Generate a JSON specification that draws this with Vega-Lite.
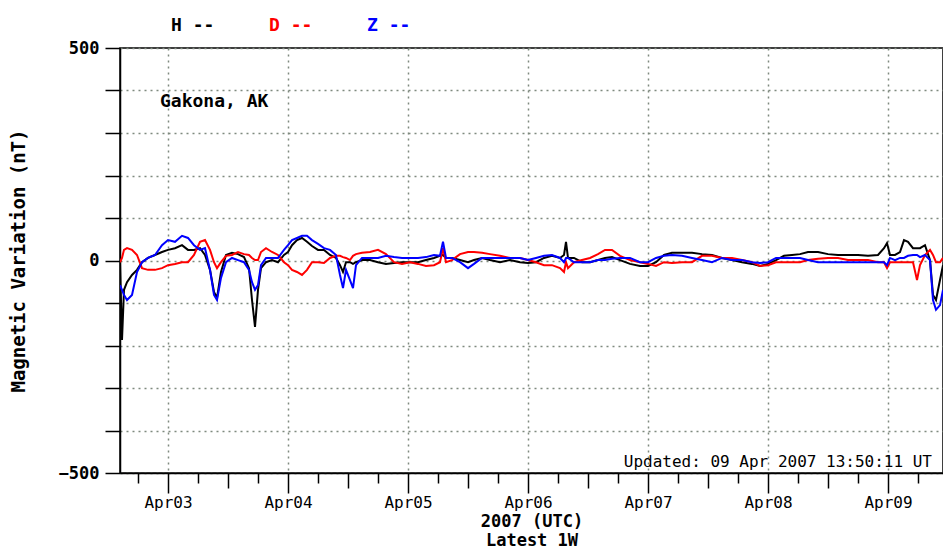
{
  "$schema": "https://vega.github.io/schema/vega-lite/v6.json",
  "autosize": "none",
  "width": 823,
  "height": 425,
  "padding": {"left": 120, "top": 48, "right": 0, "bottom": 77},
  "background": "white",
  "config": {
    "font": "DejaVu Sans Mono",
    "view": {"stroke": "black", "strokeWidth": 1.5}
  },
  "resolve": {"scale": {"x": "shared"}, "axis": {"x": "independent"}},
  "data": {"values": [
    {"t": "2007-04-02T14:24:00Z", "H": -4, "D": -4, "Z": -58},
    {"t": "2007-04-02T14:48:00Z", "H": -187, "D": 6, "Z": -69},
    {"t": "2007-04-02T15:12:00Z", "H": -69, "D": 25, "Z": -81},
    {"t": "2007-04-02T15:48:00Z", "H": -51, "D": 29, "Z": -93},
    {"t": "2007-04-02T16:48:00Z", "H": -34, "D": 25, "Z": -81},
    {"t": "2007-04-02T17:48:00Z", "H": -22, "D": 13, "Z": -27},
    {"t": "2007-04-02T18:48:00Z", "H": -4, "D": -18, "Z": -4},
    {"t": "2007-04-02T20:00:00Z", "H": 6, "D": -22, "Z": 6},
    {"t": "2007-04-02T21:24:00Z", "H": 13, "D": -22, "Z": 13},
    {"t": "2007-04-02T22:48:00Z", "H": 20, "D": -18, "Z": 36},
    {"t": "2007-04-03T00:00:00Z", "H": 25, "D": -11, "Z": 48},
    {"t": "2007-04-03T01:24:00Z", "H": 29, "D": -8, "Z": 44},
    {"t": "2007-04-03T02:48:00Z", "H": 36, "D": -4, "Z": 58},
    {"t": "2007-04-03T04:00:00Z", "H": 25, "D": -4, "Z": 53},
    {"t": "2007-04-03T05:12:00Z", "H": 25, "D": 13, "Z": 36},
    {"t": "2007-04-03T06:24:00Z", "H": 29, "D": 44, "Z": 25},
    {"t": "2007-04-03T07:24:00Z", "H": 13, "D": 48, "Z": 29},
    {"t": "2007-04-03T08:24:00Z", "H": -22, "D": 25, "Z": -22},
    {"t": "2007-04-03T09:12:00Z", "H": -74, "D": -4, "Z": -81},
    {"t": "2007-04-03T09:48:00Z", "H": -88, "D": -18, "Z": -93},
    {"t": "2007-04-03T10:36:00Z", "H": -27, "D": -4, "Z": -41},
    {"t": "2007-04-03T11:36:00Z", "H": 13, "D": 11, "Z": -4},
    {"t": "2007-04-03T12:48:00Z", "H": 18, "D": 13, "Z": 6},
    {"t": "2007-04-03T14:00:00Z", "H": 15, "D": 20, "Z": 1},
    {"t": "2007-04-03T15:12:00Z", "H": 8, "D": 15, "Z": -4},
    {"t": "2007-04-03T16:12:00Z", "H": -18, "D": 13, "Z": -22},
    {"t": "2007-04-03T16:48:00Z", "H": -93, "D": 6, "Z": -51},
    {"t": "2007-04-03T17:24:00Z", "H": -156, "D": 1, "Z": -69},
    {"t": "2007-04-03T18:00:00Z", "H": -69, "D": 1, "Z": -58},
    {"t": "2007-04-03T18:36:00Z", "H": -18, "D": 20, "Z": -11},
    {"t": "2007-04-03T19:36:00Z", "H": -4, "D": 29, "Z": 6},
    {"t": "2007-04-03T20:48:00Z", "H": 1, "D": 20, "Z": 6},
    {"t": "2007-04-03T22:00:00Z", "H": -4, "D": 13, "Z": 6},
    {"t": "2007-04-03T23:12:00Z", "H": 13, "D": -4, "Z": 25},
    {"t": "2007-04-04T00:00:00Z", "H": 20, "D": -11, "Z": 36},
    {"t": "2007-04-04T00:48:00Z", "H": 36, "D": -22, "Z": 48},
    {"t": "2007-04-04T01:48:00Z", "H": 48, "D": -27, "Z": 53},
    {"t": "2007-04-04T02:48:00Z", "H": 53, "D": -34, "Z": 58},
    {"t": "2007-04-04T03:48:00Z", "H": 44, "D": -22, "Z": 58},
    {"t": "2007-04-04T04:48:00Z", "H": 34, "D": -4, "Z": 48},
    {"t": "2007-04-04T06:00:00Z", "H": 25, "D": -4, "Z": 39},
    {"t": "2007-04-04T07:12:00Z", "H": 25, "D": -6, "Z": 29},
    {"t": "2007-04-04T08:24:00Z", "H": 13, "D": 6, "Z": 25},
    {"t": "2007-04-04T09:36:00Z", "H": 6, "D": 11, "Z": 13},
    {"t": "2007-04-04T10:24:00Z", "H": -11, "D": 11, "Z": -34},
    {"t": "2007-04-04T11:00:00Z", "H": -27, "D": 8, "Z": -65},
    {"t": "2007-04-04T11:36:00Z", "H": -4, "D": 6, "Z": -22},
    {"t": "2007-04-04T12:24:00Z", "H": -4, "D": 1, "Z": -46},
    {"t": "2007-04-04T13:00:00Z", "H": -8, "D": 11, "Z": -65},
    {"t": "2007-04-04T13:36:00Z", "H": -4, "D": 15, "Z": -11},
    {"t": "2007-04-04T14:48:00Z", "H": 1, "D": 18, "Z": 6},
    {"t": "2007-04-04T16:24:00Z", "H": 1, "D": 20, "Z": 6},
    {"t": "2007-04-04T18:00:00Z", "H": -4, "D": 25, "Z": 6},
    {"t": "2007-04-04T19:36:00Z", "H": -8, "D": 15, "Z": 11},
    {"t": "2007-04-04T21:12:00Z", "H": -6, "D": -4, "Z": 8},
    {"t": "2007-04-04T22:48:00Z", "H": -4, "D": -8, "Z": 6},
    {"t": "2007-04-05T00:24:00Z", "H": -4, "D": -4, "Z": 6},
    {"t": "2007-04-05T02:00:00Z", "H": -4, "D": -8, "Z": 6},
    {"t": "2007-04-05T03:36:00Z", "H": 1, "D": -13, "Z": 8},
    {"t": "2007-04-05T05:12:00Z", "H": 6, "D": -11, "Z": 13},
    {"t": "2007-04-05T06:24:00Z", "H": 11, "D": -4, "Z": 11},
    {"t": "2007-04-05T07:00:00Z", "H": 13, "D": 29, "Z": 44},
    {"t": "2007-04-05T07:36:00Z", "H": 6, "D": -4, "Z": 6},
    {"t": "2007-04-05T08:48:00Z", "H": 6, "D": 1, "Z": 6},
    {"t": "2007-04-05T10:24:00Z", "H": 1, "D": 15, "Z": -4},
    {"t": "2007-04-05T12:00:00Z", "H": -4, "D": 20, "Z": -18},
    {"t": "2007-04-05T13:12:00Z", "H": 1, "D": 20, "Z": -8},
    {"t": "2007-04-05T14:48:00Z", "H": 6, "D": 18, "Z": 6},
    {"t": "2007-04-05T16:24:00Z", "H": 1, "D": 15, "Z": 6},
    {"t": "2007-04-05T18:24:00Z", "H": -4, "D": 11, "Z": 6},
    {"t": "2007-04-05T20:24:00Z", "H": 1, "D": 6, "Z": 6},
    {"t": "2007-04-05T22:24:00Z", "H": -4, "D": 6, "Z": 6},
    {"t": "2007-04-06T00:00:00Z", "H": -6, "D": 1, "Z": 1},
    {"t": "2007-04-06T01:36:00Z", "H": -4, "D": -4, "Z": 6},
    {"t": "2007-04-06T03:12:00Z", "H": 6, "D": -11, "Z": 11},
    {"t": "2007-04-06T04:48:00Z", "H": 11, "D": -11, "Z": 13},
    {"t": "2007-04-06T06:24:00Z", "H": 6, "D": -18, "Z": 6},
    {"t": "2007-04-06T07:12:00Z", "H": 13, "D": -27, "Z": -4},
    {"t": "2007-04-06T07:36:00Z", "H": 44, "D": -4, "Z": 6},
    {"t": "2007-04-06T08:00:00Z", "H": 6, "D": -18, "Z": 6},
    {"t": "2007-04-06T09:12:00Z", "H": 6, "D": -4, "Z": -4},
    {"t": "2007-04-06T10:48:00Z", "H": -4, "D": 1, "Z": -4},
    {"t": "2007-04-06T12:24:00Z", "H": -4, "D": 6, "Z": -4},
    {"t": "2007-04-06T14:00:00Z", "H": 1, "D": 15, "Z": 1},
    {"t": "2007-04-06T15:24:00Z", "H": 6, "D": 25, "Z": 1},
    {"t": "2007-04-06T16:48:00Z", "H": 8, "D": 25, "Z": 4},
    {"t": "2007-04-06T18:24:00Z", "H": 1, "D": 11, "Z": 6},
    {"t": "2007-04-06T20:24:00Z", "H": -8, "D": 1, "Z": 6},
    {"t": "2007-04-06T22:24:00Z", "H": -13, "D": -4, "Z": -4},
    {"t": "2007-04-07T00:00:00Z", "H": -13, "D": -8, "Z": -4},
    {"t": "2007-04-07T01:36:00Z", "H": -4, "D": -13, "Z": 6},
    {"t": "2007-04-07T03:12:00Z", "H": 13, "D": -4, "Z": 11},
    {"t": "2007-04-07T04:48:00Z", "H": 18, "D": -6, "Z": 13},
    {"t": "2007-04-07T06:48:00Z", "H": 18, "D": -4, "Z": 11},
    {"t": "2007-04-07T08:48:00Z", "H": 18, "D": -4, "Z": 6},
    {"t": "2007-04-07T10:48:00Z", "H": 15, "D": 11, "Z": 1},
    {"t": "2007-04-07T12:48:00Z", "H": 13, "D": 11, "Z": -4},
    {"t": "2007-04-07T14:48:00Z", "H": 6, "D": 6, "Z": 6},
    {"t": "2007-04-07T16:48:00Z", "H": 1, "D": 6, "Z": 1},
    {"t": "2007-04-07T18:48:00Z", "H": -4, "D": 1, "Z": 1},
    {"t": "2007-04-07T20:48:00Z", "H": -8, "D": -4, "Z": -4},
    {"t": "2007-04-07T22:24:00Z", "H": -13, "D": -13, "Z": -6},
    {"t": "2007-04-08T00:00:00Z", "H": -8, "D": -11, "Z": -4},
    {"t": "2007-04-08T01:36:00Z", "H": 1, "D": -4, "Z": 6},
    {"t": "2007-04-08T03:12:00Z", "H": 11, "D": -4, "Z": 6},
    {"t": "2007-04-08T04:48:00Z", "H": 13, "D": -4, "Z": 6},
    {"t": "2007-04-08T06:24:00Z", "H": 15, "D": -4, "Z": 6},
    {"t": "2007-04-08T08:00:00Z", "H": 20, "D": 1, "Z": 1},
    {"t": "2007-04-08T10:00:00Z", "H": 20, "D": 4, "Z": -4},
    {"t": "2007-04-08T12:00:00Z", "H": 15, "D": 6, "Z": -4},
    {"t": "2007-04-08T14:00:00Z", "H": 13, "D": 6, "Z": -4},
    {"t": "2007-04-08T16:00:00Z", "H": 13, "D": 1, "Z": -4},
    {"t": "2007-04-08T18:00:00Z", "H": 13, "D": 1, "Z": -4},
    {"t": "2007-04-08T20:00:00Z", "H": 11, "D": 1, "Z": -4},
    {"t": "2007-04-08T22:00:00Z", "H": 13, "D": -4, "Z": -4},
    {"t": "2007-04-08T23:12:00Z", "H": 29, "D": -4, "Z": -4},
    {"t": "2007-04-08T23:48:00Z", "H": 41, "D": -18, "Z": -11},
    {"t": "2007-04-09T00:24:00Z", "H": 13, "D": -4, "Z": 6},
    {"t": "2007-04-09T01:24:00Z", "H": 13, "D": -4, "Z": 1},
    {"t": "2007-04-09T02:24:00Z", "H": 20, "D": -4, "Z": 6},
    {"t": "2007-04-09T03:12:00Z", "H": 48, "D": -4, "Z": 6},
    {"t": "2007-04-09T04:00:00Z", "H": 44, "D": -4, "Z": 11},
    {"t": "2007-04-09T05:00:00Z", "H": 29, "D": -4, "Z": 13},
    {"t": "2007-04-09T05:48:00Z", "H": 29, "D": -46, "Z": 13},
    {"t": "2007-04-09T06:24:00Z", "H": 29, "D": -11, "Z": 8},
    {"t": "2007-04-09T07:24:00Z", "H": 36, "D": 13, "Z": 13},
    {"t": "2007-04-09T08:24:00Z", "H": 1, "D": 25, "Z": 1},
    {"t": "2007-04-09T09:00:00Z", "H": -81, "D": 13, "Z": -93},
    {"t": "2007-04-09T09:36:00Z", "H": -93, "D": -4, "Z": -116},
    {"t": "2007-04-09T10:24:00Z", "H": -46, "D": -4, "Z": -105},
    {"t": "2007-04-09T11:00:00Z", "H": -11, "D": 6, "Z": -69}
  ]},
  "layer": [
    {
      "transform": [{"fold": ["H", "D", "Z"], "as": ["comp", "v"]}],
      "mark": {"type": "line", "strokeWidth": 2, "clip": true},
      "encoding": {
        "x": {
          "field": "t", "type": "temporal",
          "scale": {"type": "utc", "domain": [
            {"year": 2007, "month": 4, "date": 2, "hours": 14, "minutes": 24, "utc": true},
            {"year": 2007, "month": 4, "date": 9, "hours": 11, "minutes": 0, "utc": true}
          ], "nice": false},
          "axis": {
            "orient": "bottom",
            "title": ["2007 (UTC)", "Latest 1W"],
            "titleFont": "DejaVu Sans Mono",
            "titleFontSize": 17,
            "titleFontWeight": "bold",
            "titleColor": "black",
            "titleLineHeight": 19,
            "titlePadding": 3,
            "values": [
              {"year": 2007, "month": 4, "date": 3, "utc": true},
              {"year": 2007, "month": 4, "date": 4, "utc": true},
              {"year": 2007, "month": 4, "date": 5, "utc": true},
              {"year": 2007, "month": 4, "date": 6, "utc": true},
              {"year": 2007, "month": 4, "date": 7, "utc": true},
              {"year": 2007, "month": 4, "date": 8, "utc": true},
              {"year": 2007, "month": 4, "date": 9, "utc": true}
            ],
            "format": "%b%d",
            "labelOverlap": false,
            "labelFlush": false,
            "labelFont": "DejaVu Sans Mono",
            "labelFontSize": 16,
            "labelColor": "black",
            "labelPadding": 1,
            "domainColor": "black",
            "domainWidth": 1.5,
            "tickColor": "black",
            "tickWidth": 1.5,
            "tickSize": 20,
            "grid": true,
            "gridColor": "#7f8a7f",
            "gridDash": [2, 4],
            "gridWidth": 1.5
          }
        },
        "y": {
          "field": "v", "type": "quantitative",
          "scale": {"domain": [-500, 500], "nice": false},
          "axis": {
            "title": "Magnetic Variation (nT)",
            "titleFont": "DejaVu Sans Mono",
            "titleFontSize": 19,
            "titleFontWeight": "bold",
            "titleColor": "black",
            "titlePadding": 30,
            "values": [-500, -400, -300, -200, -100, 0, 100, 200, 300, 400, 500],
            "format": "d",
            "labelExpr": "datum.value % 500 === 0 ? datum.label : ''",
            "labelFont": "DejaVu Sans Mono",
            "labelFontSize": 17,
            "labelFontWeight": "bold",
            "labelColor": "black",
            "labelPadding": 6,
            "domainColor": "black",
            "domainWidth": 1.5,
            "tickColor": "black",
            "tickWidth": 1.5,
            "tickSize": 15,
            "grid": true,
            "gridColor": "#7f8a7f",
            "gridDash": [2, 4],
            "gridWidth": 1.5
          }
        },
        "color": {
          "field": "comp", "type": "nominal",
          "scale": {"domain": ["H", "D", "Z"], "range": ["black", "red", "blue"]},
          "legend": {
            "orient": "none",
            "direction": "horizontal",
            "legendX": 33,
            "legendY": -31,
            "title": null,
            "symbolSize": 0,
            "symbolOpacity": 0,
            "symbolStrokeWidth": 0,
            "labelOffset": 0,
            "columnPadding": 36,
            "labelExpr": "datum.label + ' --'",
            "labelFont": "DejaVu Sans Mono",
            "labelFontSize": 18,
            "labelFontWeight": "bold",
            "encode": {"labels": {"update": {"fill": {"scale": "color", "field": "value"}}}}
          }
        }
      }
    },
    {
      "data": {"values": [{"label": "Gakona, AK"}]},
      "mark": {"type": "text", "align": "left", "baseline": "middle", "font": "DejaVu Sans Mono", "fontSize": 18, "fontWeight": "bold", "color": "black"},
      "encoding": {
        "x": {
          "datum": {"year": 2007, "month": 4, "date": 2, "hours": 22, "minutes": 24, "utc": true}, "type": "temporal",
          "axis": {
            "orient": "bottom",
            "title": null,
            "labels": false,
            "grid": false,
            "domain": false,
            "tickColor": "black",
            "tickWidth": 1.5,
            "tickSize": 10,
            "values": [
              {"year": 2007, "month": 4, "date": 2, "hours": 18, "utc": true},
              {"year": 2007, "month": 4, "date": 3, "hours": 6, "utc": true},
              {"year": 2007, "month": 4, "date": 3, "hours": 18, "utc": true},
              {"year": 2007, "month": 4, "date": 4, "hours": 6, "utc": true},
              {"year": 2007, "month": 4, "date": 4, "hours": 18, "utc": true},
              {"year": 2007, "month": 4, "date": 5, "hours": 6, "utc": true},
              {"year": 2007, "month": 4, "date": 5, "hours": 18, "utc": true},
              {"year": 2007, "month": 4, "date": 6, "hours": 6, "utc": true},
              {"year": 2007, "month": 4, "date": 6, "hours": 18, "utc": true},
              {"year": 2007, "month": 4, "date": 7, "hours": 6, "utc": true},
              {"year": 2007, "month": 4, "date": 7, "hours": 18, "utc": true},
              {"year": 2007, "month": 4, "date": 8, "hours": 6, "utc": true},
              {"year": 2007, "month": 4, "date": 8, "hours": 18, "utc": true},
              {"year": 2007, "month": 4, "date": 9, "hours": 6, "utc": true}
            ]
          }
        },
        "y": {"datum": 373, "type": "quantitative"},
        "text": {"field": "label"}
      }
    },
    {
      "data": {"values": [{"label": "Updated: 09 Apr 2007 13:50:11 UT"}]},
      "mark": {"type": "text", "align": "right", "baseline": "middle", "font": "DejaVu Sans Mono", "fontSize": 16, "color": "black"},
      "encoding": {
        "x": {
          "datum": {"year": 2007, "month": 4, "date": 9, "hours": 8, "minutes": 48, "utc": true}, "type": "temporal",
          "axis": {
            "orient": "bottom",
            "title": null,
            "labels": false,
            "grid": false,
            "domain": false,
            "tickColor": "black",
            "tickWidth": 1.5,
            "tickSize": 15,
            "values": [
              {"year": 2007, "month": 4, "date": 3, "hours": 12, "utc": true},
              {"year": 2007, "month": 4, "date": 4, "hours": 12, "utc": true},
              {"year": 2007, "month": 4, "date": 5, "hours": 12, "utc": true},
              {"year": 2007, "month": 4, "date": 6, "hours": 12, "utc": true},
              {"year": 2007, "month": 4, "date": 7, "hours": 12, "utc": true},
              {"year": 2007, "month": 4, "date": 8, "hours": 12, "utc": true}
            ]
          }
        },
        "y": {"datum": -474, "type": "quantitative"},
        "text": {"field": "label"}
      }
    }
  ]
}
